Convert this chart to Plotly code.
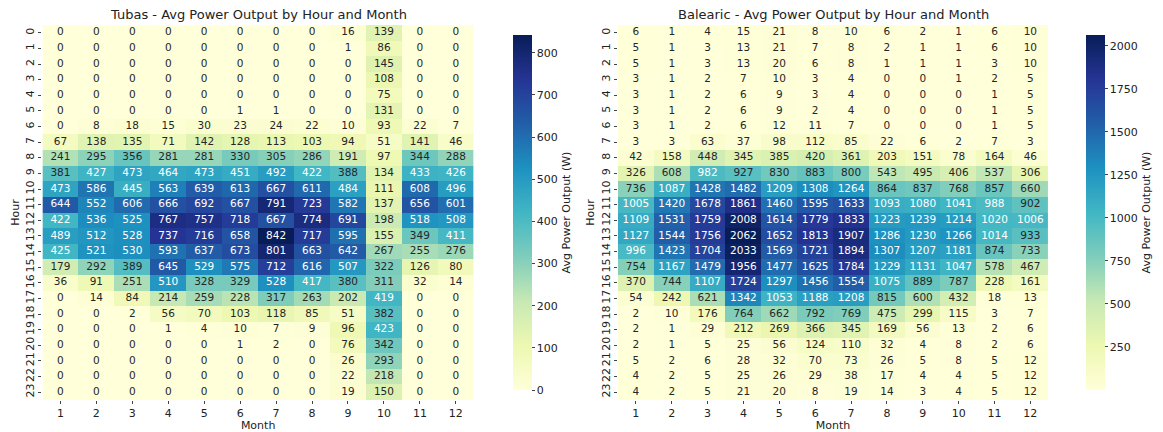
import numpy as np
import plotly.graph_objects as go

months = list(range(1, 13))
hours = list(range(24))

tubas = [
    [0, 0, 0, 0, 0, 0, 0, 0, 16, 139, 0, 0],
    [0, 0, 0, 0, 0, 0, 0, 0, 1, 86, 0, 0],
    [0, 0, 0, 0, 0, 0, 0, 0, 0, 145, 0, 0],
    [0, 0, 0, 0, 0, 0, 0, 0, 0, 108, 0, 0],
    [0, 0, 0, 0, 0, 0, 0, 0, 0, 75, 0, 0],
    [0, 0, 0, 0, 0, 1, 1, 0, 0, 131, 0, 0],
    [0, 8, 18, 15, 30, 23, 24, 22, 10, 93, 22, 7],
    [67, 138, 135, 71, 142, 128, 113, 103, 94, 51, 141, 46],
    [241, 295, 356, 281, 281, 330, 305, 286, 191, 97, 344, 288],
    [381, 427, 473, 464, 473, 451, 492, 422, 388, 134, 433, 426],
    [473, 586, 445, 563, 639, 613, 667, 611, 484, 111, 608, 496],
    [644, 552, 606, 666, 692, 667, 791, 723, 582, 137, 656, 601],
    [422, 536, 525, 767, 757, 718, 667, 774, 691, 198, 518, 508],
    [489, 512, 528, 737, 716, 658, 842, 717, 595, 155, 349, 411],
    [425, 521, 530, 593, 637, 673, 801, 663, 642, 267, 255, 276],
    [179, 292, 389, 645, 529, 575, 712, 616, 507, 322, 126, 80],
    [36, 91, 251, 510, 328, 329, 528, 417, 380, 311, 32, 14],
    [0, 14, 84, 214, 259, 228, 317, 263, 202, 419, 0, 0],
    [0, 0, 2, 56, 70, 103, 118, 85, 51, 382, 0, 0],
    [0, 0, 0, 1, 4, 10, 7, 9, 96, 423, 0, 0],
    [0, 0, 0, 0, 0, 1, 2, 0, 76, 342, 0, 0],
    [0, 0, 0, 0, 0, 0, 0, 0, 26, 293, 0, 0],
    [0, 0, 0, 0, 0, 0, 0, 0, 22, 218, 0, 0],
    [0, 0, 0, 0, 0, 0, 0, 0, 19, 150, 0, 0],
]

balearic = [
    [6, 1, 4, 15, 21, 8, 10, 6, 2, 1, 6, 10],
    [5, 1, 3, 13, 21, 7, 8, 2, 1, 1, 6, 10],
    [5, 1, 3, 13, 20, 6, 8, 1, 1, 1, 3, 10],
    [3, 1, 2, 7, 10, 3, 4, 0, 0, 1, 2, 5],
    [3, 1, 2, 6, 9, 3, 4, 0, 0, 0, 1, 5],
    [3, 1, 2, 6, 9, 2, 4, 0, 0, 0, 1, 5],
    [3, 1, 2, 6, 12, 11, 7, 0, 0, 0, 1, 5],
    [3, 3, 63, 37, 98, 112, 85, 22, 6, 2, 7, 3],
    [42, 158, 448, 345, 385, 420, 361, 203, 151, 78, 164, 46],
    [326, 608, 982, 927, 830, 883, 800, 543, 495, 406, 537, 306],
    [736, 1087, 1428, 1482, 1209, 1308, 1264, 864, 837, 768, 857, 660],
    [1005, 1420, 1678, 1861, 1460, 1595, 1633, 1093, 1080, 1041, 988, 902],
    [1109, 1531, 1759, 2008, 1614, 1779, 1833, 1223, 1239, 1214, 1020, 1006],
    [1127, 1544, 1756, 2062, 1652, 1813, 1907, 1286, 1230, 1266, 1014, 933],
    [996, 1423, 1704, 2033, 1569, 1721, 1894, 1307, 1207, 1181, 874, 733],
    [754, 1167, 1479, 1956, 1477, 1625, 1784, 1229, 1131, 1047, 578, 467],
    [370, 744, 1107, 1724, 1297, 1456, 1554, 1075, 889, 787, 228, 161],
    [54, 242, 621, 1342, 1053, 1188, 1208, 815, 600, 432, 18, 13],
    [2, 10, 176, 764, 662, 792, 769, 475, 299, 115, 3, 7],
    [2, 1, 29, 212, 269, 366, 345, 169, 56, 13, 2, 6],
    [2, 1, 5, 25, 56, 124, 110, 32, 4, 8, 2, 6],
    [5, 2, 6, 28, 32, 70, 73, 26, 5, 8, 5, 12],
    [4, 2, 5, 25, 26, 29, 38, 17, 4, 4, 5, 12],
    [4, 2, 5, 21, 20, 8, 19, 14, 3, 4, 5, 12],
]

titles = ["Tubas - Avg Power Output by Hour and Month",
          "Balearic - Avg Power Output by Hour and Month"]
cbar_title = "Avg Power Output (W)"
cbar_ticks = [[0, 100, 200, 300, 400, 500, 600, 700, 800],
              [250, 500, 750, 1000, 1250, 1500, 1750, 2000]]

YLGNBU = ["#ffffd9", "#edf8b1", "#c7e9b4", "#7fcdbb", "#41b6c4",
          "#1d91c0", "#225ea8", "#253494", "#081d58"]
colorscale = [[i / 8, c] for i, c in enumerate(YLGNBU)]
FONT = "DejaVu Sans"
W, H = 1163, 432


def hex2rgb(h):
    return np.array([int(h[i:i + 2], 16) for i in (1, 3, 5)]) / 255.0


stops = np.array([hex2rgb(c) for c in YLGNBU])


def text_color(v, vmin, vmax):
    t = (v - vmin) / (vmax - vmin) * 8
    i = min(int(np.floor(t)), 7)
    f = t - i
    rgb = stops[i] * (1 - f) + stops[i + 1] * f
    lin = np.where(rgb <= 0.03928, rgb / 12.92, ((rgb + 0.055) / 1.055) ** 2.4)
    lum = 0.2126 * lin[0] + 0.7152 * lin[1] + 0.0722 * lin[2]
    return "rgb(38,38,38)" if lum > 0.408 else "white"


fig = go.Figure()

panels = [
    dict(data=tubas, x0=43, x1=480, cb=510),
    dict(data=balearic, x0=626, x1=1062, cb=1090),
]
y_top, y_bot = 25, 400

annotations = []
for k, p in enumerate(panels):
    z = np.array(p["data"], dtype=float)
    vmin, vmax = z.min(), z.max()
    xa = "x" if k == 0 else "x2"
    ya = "y" if k == 0 else "y2"
    fig.add_trace(go.Heatmap(
        z=z, x=months, y=hours, xaxis=xa, yaxis=ya,
        colorscale=colorscale, zmin=vmin, zmax=vmax, hoverinfo="skip",
        colorbar=dict(
            x=p["cb"] / W, xanchor="left", xref="paper",
            y=(H - y_bot) / H, yanchor="bottom", yref="paper",
            len=(y_bot - y_top) / H, lenmode="fraction",
            thickness=19, thicknessmode="pixels", outlinewidth=0,
            ticks="outside", ticklen=3, tickwidth=1, tickcolor="#444",
            tickvals=cbar_ticks[k],
            tickfont=dict(family=FONT, size=11, color="#222"),
            title=dict(text=cbar_title, side="right",
                       font=dict(family=FONT, size=11, color="#222")),
        ),
    ))
    xs, ys, ts, cs = [], [], [], []
    for hi, h in enumerate(hours):
        for mi, m in enumerate(months):
            v = z[hi, mi]
            xs.append(m)
            ys.append(h)
            ts.append(f"{v:.0f}")
            cs.append(text_color(v, vmin, vmax))
    fig.add_trace(go.Scatter(
        x=xs, y=ys, xaxis=xa, yaxis=ya, mode="text", text=ts,
        textposition="middle center",
        textfont=dict(family=FONT, size=10.5, color=cs),
        hoverinfo="skip", showlegend=False,
    ))
    dom_x = [p["x0"] / W, p["x1"] / W]
    dom_y = [(H - y_bot) / H, (H - y_top) / H]
    axis_common = dict(showgrid=False, zeroline=False, showline=False,
                       ticks="outside", ticklen=3, tickcolor="#444",
                       tickfont=dict(family=FONT, size=11, color="#222"))
    fig.update_layout(**{
        ("xaxis" if k == 0 else "xaxis2"): dict(
            domain=dom_x, anchor=ya, range=[0.5, 12.5],
            tickmode="array", tickvals=months, ticktext=[str(m) for m in months],
            title=dict(text="Month", standoff=2,
                       font=dict(family=FONT, size=11, color="#222")),
            **axis_common),
        ("yaxis" if k == 0 else "yaxis2"): dict(
            domain=dom_y, anchor=xa, range=[23.5, -0.5],
            tickmode="array", tickvals=hours, ticktext=[str(h) for h in hours],
            tickangle=-90,
            title=dict(text="Hour", standoff=2,
                       font=dict(family=FONT, size=11, color="#222")),
            **axis_common),
    })
    annotations.append(dict(
        text=titles[k], xref="paper", yref="paper",
        x=(p["x0"] + p["x1"]) / 2 / W, y=(H - 14) / H,
        xanchor="center", yanchor="middle", showarrow=False,
        font=dict(family=FONT, size=13, color="#222"),
    ))

fig.update_layout(
    width=W, height=H, margin=dict(l=0, r=0, t=0, b=0),
    paper_bgcolor="white", plot_bgcolor="white",
    showlegend=False, annotations=annotations,
)

fig.write_html("out.html")
